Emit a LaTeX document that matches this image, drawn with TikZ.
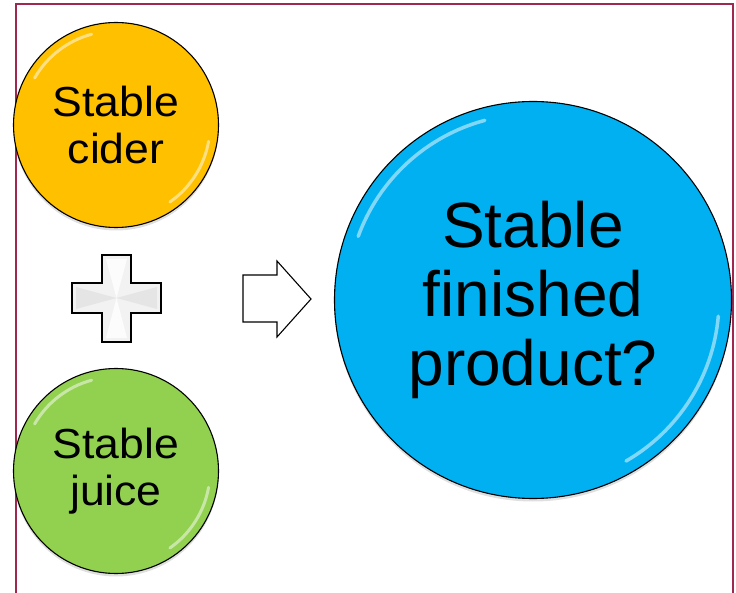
\documentclass[tikz,border=0pt]{standalone}
\usepackage{fontspec}
\setmainfont{Liberation Sans}
\usetikzlibrary{shadows}
\definecolor{frameRed}{HTML}{A0284E}
\definecolor{ciderGold}{HTML}{FFC000}
\definecolor{juiceGreen}{HTML}{92D050}
\definecolor{productBlue}{HTML}{00B0F0}
\newcommand{\widetext}[1]{\scalebox{1.06}[1]{#1}}
\tikzset{
  bubble/.style={circle, draw=black, line width=1.1pt, inner sep=0pt, align=center,
    text=black, drop shadow={shadow xshift=0pt, shadow yshift=-3pt, opacity=0.25}},
  gloss/.style={line width=3pt, white, opacity=0.5, line cap=round},
  outlineshape/.style={draw=black, line width=1.1pt, line join=miter},
}
\begin{document}
\begin{tikzpicture}[x=1pt, y=-1pt]
  \useasboundingbox (0,0) rectangle (736,593);
  % outer frame (its bottom edge runs off the page)
  \begin{scope}
    \clip (0,0) rectangle (736,593);
    \draw[frameRed, line width=1.6pt] (16,4) rectangle (733,610);
  \end{scope}

  % ingredient discs
  \node[bubble, fill=ciderGold, minimum size=205pt, font=\fontsize{42}{47}\selectfont]
    (cider) at (116,125) {\widetext{Stable}\\\widetext{cider}};
  \node[bubble, fill=juiceGreen, minimum size=205pt, font=\fontsize{42}{47}\selectfont]
    (juice) at (116,471) {\widetext{Stable}\\\widetext{juice}};
  % result disc
  \node[bubble, fill=productBlue, minimum size=397pt, font=\fontsize{64}{69}\selectfont]
    (product) at (533,300) {Stable\\finished\\product?};

  % glossy rims
  \foreach \n/\r in {cider/94, juice/94}{
    \draw[gloss] ([shift={(150:\r pt)}]\n.center) arc[start angle=150, end angle=105, radius=\r pt];
    \draw[gloss] ([shift={(-10:\r pt)}]\n.center) arc[start angle=-10, end angle=-55, radius=\r pt];
  }
  \draw[gloss, line width=3.5pt] ([shift={(160:186pt)}]product.center) arc[start angle=160, end angle=105, radius=186pt];
  \draw[gloss, line width=3.5pt] ([shift={(-5:186pt)}]product.center) arc[start angle=-5, end angle=-60, radius=186pt];

  % plus sign
  \coordinate (plusc) at (116.5,298);
  \fill[black!5] (102,255) -- (131,255) -- (131,283) -- (161,283) -- (161,313) -- (131,313)
    -- (131,342) -- (102,342) -- (102,313) -- (72,313) -- (72,283) -- (102,283) -- cycle;
  \fill[white, opacity=0.8] (plusc) -- (106,259) -- (127,259) -- cycle;
  \fill[white, opacity=0.8] (plusc) -- (106,338) -- (127,338) -- cycle;
  \fill[black!10] (plusc) -- (76,287) -- (76,309) -- cycle;
  \fill[black!10] (plusc) -- (157,287) -- (157,309) -- cycle;
  \draw[outlineshape] (102,255) -- (131,255) -- (131,283) -- (161,283) -- (161,313) -- (131,313)
    -- (131,342) -- (102,342) -- (102,313) -- (72,313) -- (72,283) -- (102,283) -- cycle;

  % block arrow
  \draw[outlineshape, fill=white] (243,275) -- (277,275) -- (277,261) -- (311,299)
    -- (277,337) -- (277,322) -- (243,322) -- cycle;
\end{tikzpicture}
\end{document}
